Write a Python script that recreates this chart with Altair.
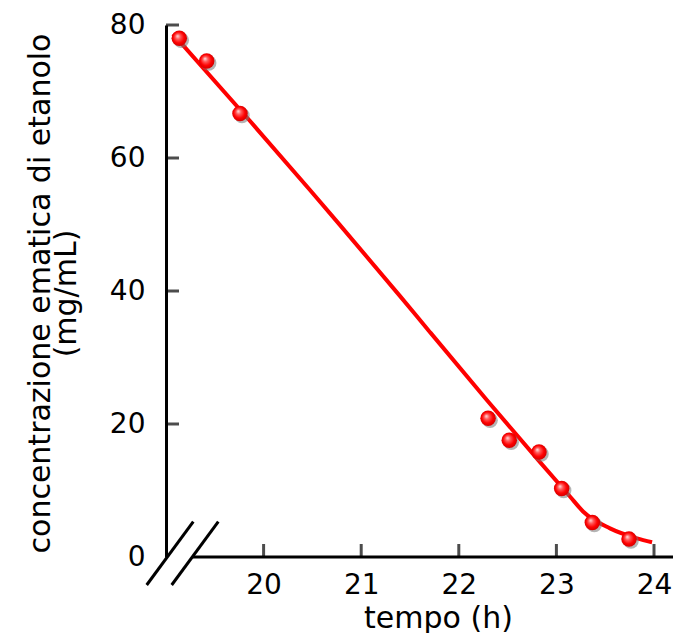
import altair as alt
import pandas as pd

# measured data points (time in hours, ethanol concentration)
point_t = [19.136, 19.417, 19.758, 22.30, 22.517, 22.822, 23.054, 23.368, 23.744]
point_c = [78.0, 74.6, 66.7, 20.85, 17.56, 15.8, 10.29, 5.18, 2.69]

# fitted elimination curve
curve_t = [19.072, 19.861, 20.475, 20.783, 21.398, 21.705, 22.289, 22.832, 23.139, 23.273, 23.549, 23.826, 23.980]
curve_c = [78.65, 65.56, 55.18, 49.91, 39.23, 33.81, 23.58, 14.26, 9.1, 6.85, 4.31, 2.81, 2.21]

x_ticks = [20, 21, 22, 23, 24]
y_ticks = [0, 20, 40, 60, 80]
y_inner_ticks = [20, 40, 60, 80]

W, H = 507, 532
FONT = "DejaVu Sans"

pts = pd.DataFrame({"t": point_t, "c": point_c})
crv = pd.DataFrame({"t": curve_t, "c": curve_c})
xt = pd.DataFrame({"t": x_ticks, "c": [0] * len(x_ticks)})
yt = pd.DataFrame({"t": [19] * len(y_inner_ticks), "c": y_inner_ticks})

xscale = alt.Scale(domain=[19, 19 + W / 97.6], nice=False, zero=False)
yscale = alt.Scale(domain=[0, 80], nice=False, zero=False)

xaxis = alt.Axis(values=x_ticks, format="d", domain=False, ticks=False, grid=False,
                 labelFont=FONT, labelFontSize=28, labelColor="black", labelPadding=14,
                 title="tempo (h)", titleFont=FONT, titleFontSize=30, titleFontWeight="normal",
                 titleColor="black", titleX=272, titleY=70, titleAlign="center",
                 titleBaseline="alphabetic")
yaxis = alt.Axis(values=y_ticks, format="d", domain=True, domainColor="black", domainWidth=3,
                 ticks=False, grid=False,
                 labelFont=FONT, labelFontSize=28, labelColor="black", labelPadding=21,
                 title=["concentrazione ematica di etanolo", "(mg/mL)"],
                 titleFont=FONT, titleFontSize=30, titleFontWeight="normal", titleColor="black",
                 titleAngle=270, titleX=-117, titleY=268, titleAlign="center",
                 titleBaseline="alphabetic", titleLineHeight=26)

line = alt.Chart(crv).mark_line(color="#ff0000", strokeWidth=4, interpolate="monotone").encode(
    x=alt.X("t:Q", scale=xscale, axis=xaxis),
    y=alt.Y("c:Q", scale=yscale, axis=yaxis),
)

shadow = alt.Chart(pts).mark_circle(size=240, color="#777777", opacity=0.55, xOffset=2, yOffset=2).encode(
    x=alt.X("t:Q", scale=xscale), y=alt.Y("c:Q", scale=yscale)
)

ball_fill = alt.RadialGradient(
    gradient="radial",
    stops=[
        alt.GradientStop(color="#ffe4e4", offset=0),
        alt.GradientStop(color="#ff5a5a", offset=0.3),
        alt.GradientStop(color="#ff0000", offset=0.65),
        alt.GradientStop(color="#c80000", offset=1),
    ],
    x1=0.38, y1=0.35, r1=0, x2=0.5, y2=0.5, r2=0.55,
)
balls = alt.Chart(pts).mark_point(shape="circle", size=240, filled=True, fill=ball_fill,
                                  opacity=1, strokeWidth=0).encode(
    x=alt.X("t:Q", scale=xscale), y=alt.Y("c:Q", scale=yscale)
)

xticks = alt.Chart(xt).mark_tick(orient="vertical", size=13, thickness=3, color="black",
                                 yOffset=-6.5).encode(
    x=alt.X("t:Q", scale=xscale), y=alt.Y("c:Q", scale=yscale)
)
yticks = alt.Chart(yt).mark_tick(orient="horizontal", size=13, thickness=3, color="black",
                                 xOffset=6.5).encode(
    x=alt.X("t:Q", scale=xscale), y=alt.Y("c:Q", scale=yscale)
)

one = alt.Data(values=[{"k": 1}])
xline = alt.Chart(one).mark_rule(color="black", strokeWidth=3).encode(
    x=alt.value(26.5), x2=alt.value(W), y=alt.value(H)
)
brk1 = alt.Chart(one).mark_rule(color="black", strokeWidth=3).encode(
    x=alt.value(-19.3), x2=alt.value(27.3), y=alt.value(560), y2=alt.value(496.7)
)
brk2 = alt.Chart(one).mark_rule(color="black", strokeWidth=3).encode(
    x=alt.value(5.7), x2=alt.value(52.3), y=alt.value(560), y2=alt.value(496.7)
)

chart = alt.layer(line, xline, xticks, yticks, brk1, brk2, shadow, balls).properties(
    width=W, height=H,
    autosize=alt.AutoSizeParams(type="none"),
    padding={"left": 158, "top": 17, "right": 0, "bottom": 76},
    background="white",
).configure_view(stroke=None)

chart.save("out.html", embed_options={"renderer": "svg", "actions": False})
